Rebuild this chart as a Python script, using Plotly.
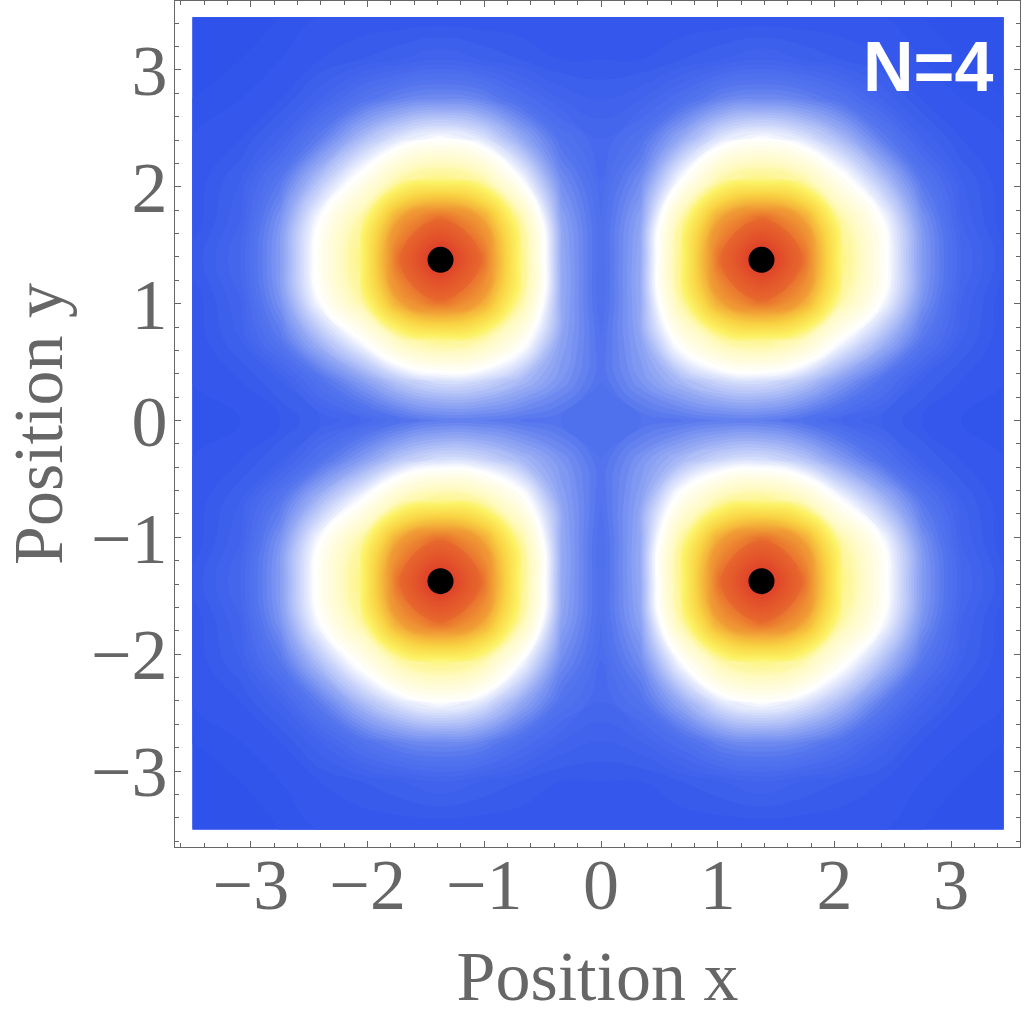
import plotly.graph_objects as go

# grid coordinates of the density samples (both axes); outer samples sit on the image border
grid_x = [-3.52, -3.09, -2.75, -2.41, -2.06, -1.72, -1.38, -1.03, -0.69, -0.34, 0.0,
          0.34, 0.69, 1.03, 1.38, 1.72, 2.06, 2.41, 2.75, 3.09, 3.47]
grid_y = [-3.52, -3.09, -2.75, -2.41, -2.06, -1.72, -1.38, -1.03, -0.69, -0.34, 0.0,
          0.34, 0.69, 1.03, 1.38, 1.72, 2.06, 2.41, 2.75, 3.09, 3.47]

# density, rows listed from top (y=3.47) to bottom (y=-3.52)
density_rows = [
    [0, 0, 0, 1, 1, 1, 1, 1, 1, 1, 1, 1, 1, 1, 1, 1, 1, 1, 0, 0, 0],
    [0, 0, 1, 2, 3, 4, 5, 4, 3, 2, 2, 2, 3, 4, 5, 4, 3, 2, 1, 0, 0],
    [0, 1, 2, 5, 9, 12, 13, 12, 8, 5, 4, 5, 8, 12, 13, 12, 9, 5, 2, 1, 0],
    [1, 2, 5, 11, 19, 25, 28, 25, 17, 9, 6, 9, 17, 25, 28, 25, 19, 11, 5, 2, 1],
    [1, 4, 10, 20, 30, 41, 45, 41, 28, 13, 7, 13, 28, 41, 45, 41, 30, 20, 10, 4, 1],
    [1, 5, 14, 28, 41, 74, 86, 74, 41, 16, 8, 16, 41, 74, 86, 74, 41, 28, 14, 5, 1],
    [2, 6, 15, 30, 45, 86, 100, 86, 45, 17, 8, 17, 45, 86, 100, 86, 45, 30, 15, 6, 2],
    [1, 5, 14, 28, 41, 74, 86, 74, 42, 17, 8, 17, 42, 74, 86, 74, 41, 28, 14, 5, 1],
    [1, 4, 10, 19, 28, 39, 44, 41, 31, 16, 9, 16, 31, 41, 44, 39, 28, 19, 10, 4, 1],
    [1, 2, 4, 9, 15, 21, 24, 23, 19, 14, 9, 14, 19, 23, 24, 21, 15, 9, 4, 2, 1],
    [0, 1, 2, 4, 6, 9, 11, 11, 10, 9, 8, 9, 10, 11, 11, 9, 6, 4, 2, 1, 0],
    [1, 2, 4, 9, 15, 21, 24, 23, 19, 14, 9, 14, 19, 23, 24, 21, 15, 9, 4, 2, 1],
    [1, 4, 10, 19, 28, 39, 44, 41, 31, 16, 9, 16, 31, 41, 44, 39, 28, 19, 10, 4, 1],
    [1, 5, 14, 28, 41, 74, 86, 74, 42, 17, 8, 17, 42, 74, 86, 74, 41, 28, 14, 5, 1],
    [2, 6, 15, 30, 45, 86, 100, 86, 45, 17, 8, 17, 45, 86, 100, 86, 45, 30, 15, 6, 2],
    [1, 5, 14, 28, 41, 74, 86, 74, 41, 16, 8, 16, 41, 74, 86, 74, 41, 28, 14, 5, 1],
    [1, 4, 10, 20, 30, 41, 45, 41, 28, 13, 7, 13, 28, 41, 45, 41, 30, 20, 10, 4, 1],
    [1, 2, 5, 11, 19, 25, 28, 25, 17, 9, 6, 9, 17, 25, 28, 25, 19, 11, 5, 2, 1],
    [0, 1, 2, 5, 9, 12, 13, 12, 8, 5, 4, 5, 8, 12, 13, 12, 9, 5, 2, 1, 0],
    [0, 0, 1, 2, 3, 4, 5, 4, 3, 2, 2, 2, 3, 4, 5, 4, 3, 2, 1, 0, 0],
    [0, 0, 0, 1, 1, 1, 1, 1, 1, 1, 1, 1, 1, 1, 1, 1, 1, 1, 0, 0, 0],
]

# particle positions (black dots)
dots_x = [-1.375, 1.375, -1.375, 1.375]
dots_y = [1.375, 1.375, -1.375, -1.375]

tick_vals = [-3, -2, -1, 0, 1, 2, 3]
x_title = "Position x"
y_title = "Position y"
panel_label = "N=4"

colorscale = [
    [0.00, "rgb(47,82,235)"],
    [0.10, "rgb(85,118,238)"],
    [0.28, "rgb(255,255,255)"],
    [0.38, "rgb(255,250,195)"],
    [0.48, "rgb(252,242,100)"],
    [0.60, "rgb(249,212,68)"],
    [0.72, "rgb(242,165,55)"],
    [0.85, "rgb(232,108,45)"],
    [1.00, "rgb(220,50,40)"],
]

z_grid = density_rows[::-1]

fig = go.Figure()
# smooth image underneath, so no gap of the filled contours can show through
fig.add_trace(go.Heatmap(
    z=z_grid, x=grid_x, y=grid_y, zsmooth="best", zmin=0, zmax=100,
    colorscale=colorscale, showscale=False, hoverinfo="skip", xaxis="x", yaxis="y",
))
fig.add_trace(go.Contour(
    z=z_grid, x=grid_x, y=grid_y,
    zmin=0, zmax=100, colorscale=colorscale, showscale=False, hoverinfo="skip",
    contours=dict(coloring="fill", start=-1, end=100, size=1, showlines=False),
    line=dict(width=0, smoothing=1.3),
    xaxis="x", yaxis="y",
))
fig.add_trace(go.Scatter(
    x=dots_x, y=dots_y, mode="markers",
    marker=dict(size=26, color="black", line=dict(width=0)),
    xaxis="x2", yaxis="y2", showlegend=False, hoverinfo="skip",
))

gray = "#666666"
tickfont = dict(family="Liberation Serif, Times New Roman, serif", size=72, color=gray)
titlefont = dict(family="Liberation Serif, Times New Roman, serif", size=70, color=gray)
frame_range = [-3.65, 3.59]
data_range = [-3.5, 3.45]
span = frame_range[1] - frame_range[0]
dom = [(data_range[0] - frame_range[0]) / span, (data_range[1] - frame_range[0]) / span]

common_frame = dict(
    domain=[0, 1], range=frame_range, showline=True, linecolor=gray, linewidth=1.2,
    mirror="allticks", ticks="inside", ticklen=6, tickwidth=1.2, tickcolor=gray,
    tickvals=tick_vals, tickfont=tickfont, showgrid=False, zeroline=False,
    automargin=False,
    minor=dict(ticks="inside", ticklen=3.5, tickwidth=1, tickcolor=gray, dtick=0.2, tick0=0, showgrid=False),
)

fig.update_layout(
    width=1024, height=1020,
    margin=dict(l=175, r=4, t=1, b=173),
    paper_bgcolor="white", plot_bgcolor="rgba(0,0,0,0)",
    showlegend=False,
    xaxis=dict(domain=dom, range=data_range, visible=False, anchor="y"),
    yaxis=dict(domain=dom, range=data_range, visible=False, anchor="x"),
    xaxis2=dict(anchor="y2", title=dict(text=x_title, font=titlefont, standoff=27),
                ticklabelstandoff=-26, **common_frame),
    yaxis2=dict(anchor="x2", title=dict(text=y_title, font=titlefont, standoff=22),
                ticklabelstandoff=-8, **common_frame),
    annotations=[dict(
        text="<b>" + panel_label + "</b>", xref="paper", yref="paper",
        x=0.971, y=0.971, xanchor="right", yanchor="top", showarrow=False,
        font=dict(family="Liberation Sans, Arial, sans-serif", size=70, color="white"),
    )],
)

fig.write_html(
    "out.html",
    config={"displayModeBar": False},
    post_script="document.body.style.margin='0';document.body.style.padding='0';"
                "document.documentElement.style.overflow='hidden';",
)
